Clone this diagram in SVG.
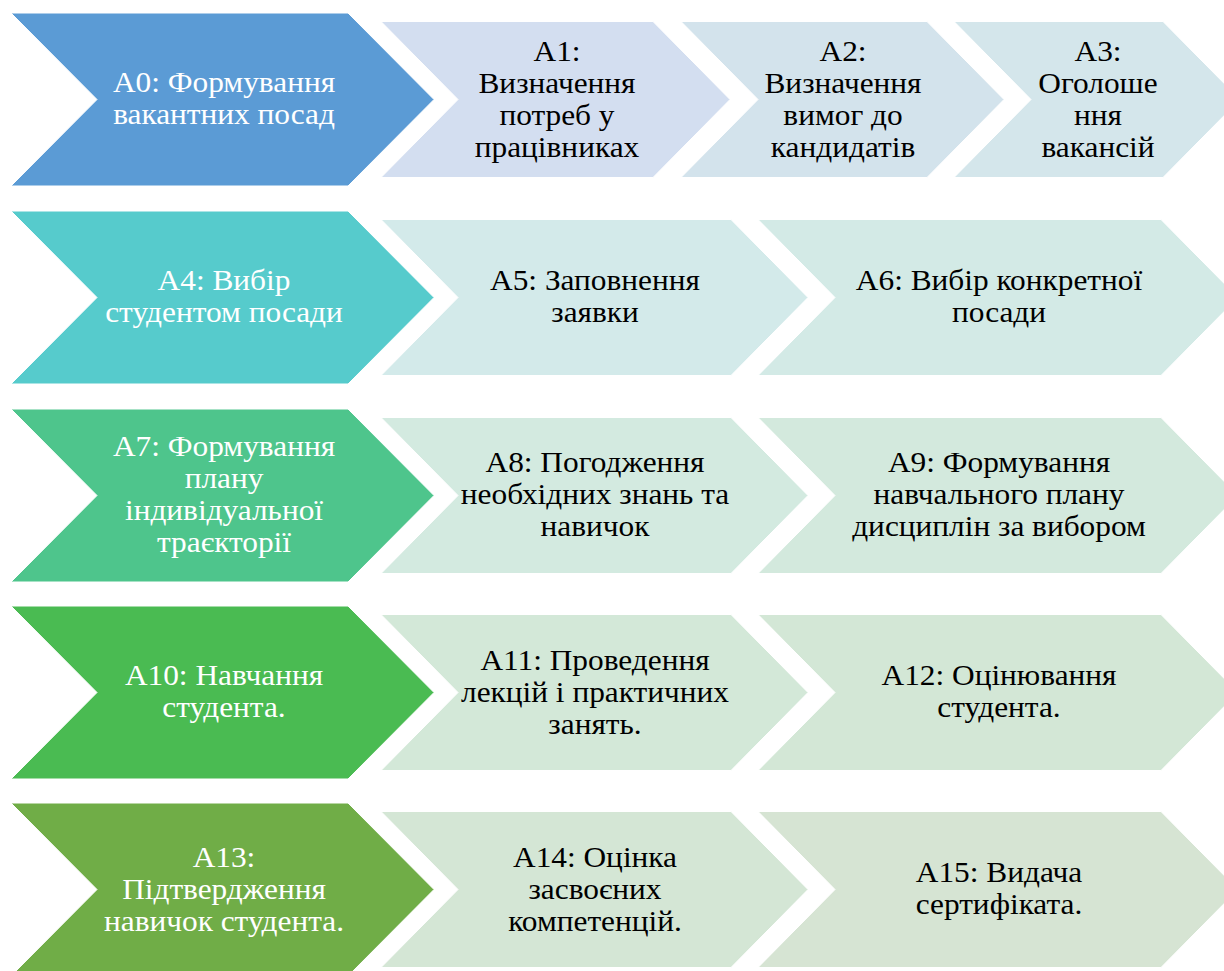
<svg xmlns="http://www.w3.org/2000/svg" width="1224" height="971" viewBox="0 0 1224 971">
<style>
  text { font-family: "Liberation Serif", "Times New Roman", serif; font-size: 28.5px; text-anchor: middle; }
  .w { fill: #ffffff; }
  .k { fill: #000000; }
  .sh { stroke: #ffffff; stroke-width: 1; }
</style>
<rect width="1224" height="971" fill="#ffffff"/>
<g id="connectors"></g>

<!-- Row 1 -->
<g id="A0">
  <path class="sh" d="M11,13 L348,13 L434,99.5 L348,186 L11,186 L97,99.5 Z" fill="#5B9BD5"/>
  <g class="w" transform="translate(224,0) scale(1.1,1)">
    <text x="0" y="92">A0: Формування</text>
    <text x="0" y="124">вакантних посад</text>
  </g>
</g>
<g id="A1">
  <path class="sh" d="M381,21.5 L653,21.5 L730,99.5 L653,177.5 L381,177.5 L458,99.5 Z" fill="#D3DEF0"/>
  <g class="k" transform="translate(557,0) scale(1.1,1)">
    <text x="0" y="61">A1:</text>
    <text x="0" y="93">Визначення</text>
    <text x="0" y="125">потреб у</text>
    <text x="0" y="157">працівниках</text>
  </g>
</g>
<g id="A2">
  <path class="sh" d="M681,21.5 L927,21.5 L1004,99.5 L927,177.5 L681,177.5 L758,99.5 Z" fill="#D3E3EC"/>
  <g class="k" transform="translate(843,0) scale(1.1,1)">
    <text x="0" y="61">A2:</text>
    <text x="0" y="93">Визначення</text>
    <text x="0" y="125">вимог до</text>
    <text x="0" y="157">кандидатів</text>
  </g>
</g>
<g id="A3">
  <path class="sh" d="M954,21.5 L1163,21.5 L1240,99.5 L1163,177.5 L954,177.5 L1031,99.5 Z" fill="#D4E6EB"/>
  <g class="k" transform="translate(1098,0) scale(1.1,1)">
    <text x="0" y="61">A3:</text>
    <text x="0" y="93">Оголоше</text>
    <text x="0" y="125">ння</text>
    <text x="0" y="157">вакансій</text>
  </g>
</g>

<!-- Row 2 -->
<g id="A4">
  <path class="sh" d="M11,211 L348,211 L434,297.5 L348,384 L11,384 L97,297.5 Z" fill="#56CBCC"/>
  <g class="w" transform="translate(224,0) scale(1.1,1)">
    <text x="0" y="290">A4: Вибір</text>
    <text x="0" y="322">студентом посади</text>
  </g>
</g>
<g id="A5">
  <path class="sh" d="M381,219.5 L731,219.5 L808,297.5 L731,375.5 L381,375.5 L458,297.5 Z" fill="#D3EAEA"/>
  <g class="k" transform="translate(595,0) scale(1.1,1)">
    <text x="0" y="290">A5: Заповнення</text>
    <text x="0" y="322">заявки</text>
  </g>
</g>
<g id="A6">
  <path class="sh" d="M758,219.5 L1161,219.5 L1238,297.5 L1161,375.5 L758,375.5 L835,297.5 Z" fill="#D3EAE6"/>
  <g class="k" transform="translate(999,0) scale(1.1,1)">
    <text x="0" y="290">A6: Вибір конкретної</text>
    <text x="0" y="322">посади</text>
  </g>
</g>

<!-- Row 3 -->
<g id="A7">
  <path class="sh" d="M11,409 L348,409 L434,495.5 L348,582 L11,582 L97,495.5 Z" fill="#4EC58C"/>
  <g class="w" transform="translate(224,0) scale(1.1,1)">
    <text x="0" y="456">A7: Формування</text>
    <text x="0" y="488">плану</text>
    <text x="0" y="520">індивідуальної</text>
    <text x="0" y="552">траєкторії</text>
  </g>
</g>
<g id="A8">
  <path class="sh" d="M381,417.5 L731,417.5 L808,495.5 L731,573.5 L381,573.5 L458,495.5 Z" fill="#D3EAE0"/>
  <g class="k" transform="translate(595,0) scale(1.1,1)">
    <text x="0" y="472">A8: Погодження</text>
    <text x="0" y="504">необхідних знань та</text>
    <text x="0" y="536">навичок</text>
  </g>
</g>
<g id="A9">
  <path class="sh" d="M758,417.5 L1161,417.5 L1238,495.5 L1161,573.5 L758,573.5 L835,495.5 Z" fill="#D3E9DD"/>
  <g class="k" transform="translate(999,0) scale(1.1,1)">
    <text x="0" y="472">A9: Формування</text>
    <text x="0" y="504">навчального плану</text>
    <text x="0" y="536">дисциплін за вибором</text>
  </g>
</g>

<!-- Row 4 -->
<g id="A10">
  <path class="sh" d="M11,606 L348,606 L434,692.5 L348,779 L11,779 L97,692.5 Z" fill="#4ABB52"/>
  <g class="w" transform="translate(224,0) scale(1.1,1)">
    <text x="0" y="685">A10: Навчання</text>
    <text x="0" y="717">студента.</text>
  </g>
</g>
<g id="A11">
  <path class="sh" d="M381,614.5 L731,614.5 L808,692.5 L731,770.5 L381,770.5 L458,692.5 Z" fill="#D3E8D8"/>
  <g class="k" transform="translate(595,0) scale(1.1,1)">
    <text x="0" y="670">A11: Проведення</text>
    <text x="0" y="702">лекцій і практичних</text>
    <text x="0" y="734">занять.</text>
  </g>
</g>
<g id="A12">
  <path class="sh" d="M758,614.5 L1161,614.5 L1238,692.5 L1161,770.5 L758,770.5 L835,692.5 Z" fill="#D3E7D6"/>
  <g class="k" transform="translate(999,0) scale(1.1,1)">
    <text x="0" y="685">A12: Оцінювання</text>
    <text x="0" y="717">студента.</text>
  </g>
</g>

<!-- Row 5 -->
<g id="A13">
  <path class="sh" d="M11,803 L348,803 L434,889.5 L348,976 L11,976 L97,889.5 Z" fill="#70AD47"/>
  <g class="w" transform="translate(224,0) scale(1.1,1)">
    <text x="0" y="867">A13:</text>
    <text x="0" y="899">Підтвердження</text>
    <text x="0" y="931">навичок студента.</text>
  </g>
</g>
<g id="A14">
  <path class="sh" d="M381,811.5 L731,811.5 L808,889.5 L731,967.5 L381,967.5 L458,889.5 Z" fill="#D4E6D5"/>
  <g class="k" transform="translate(595,0) scale(1.1,1)">
    <text x="0" y="867">A14: Оцінка</text>
    <text x="0" y="899">засвоєних</text>
    <text x="0" y="931">компетенцій.</text>
  </g>
</g>
<g id="A15">
  <path class="sh" d="M758,811.5 L1161,811.5 L1238,889.5 L1161,967.5 L758,967.5 L835,889.5 Z" fill="#D6E4D3"/>
  <g class="k" transform="translate(999,0) scale(1.1,1)">
    <text x="0" y="882">A15: Видача</text>
    <text x="0" y="914">сертифіката.</text>
  </g>
</g>
</svg>
